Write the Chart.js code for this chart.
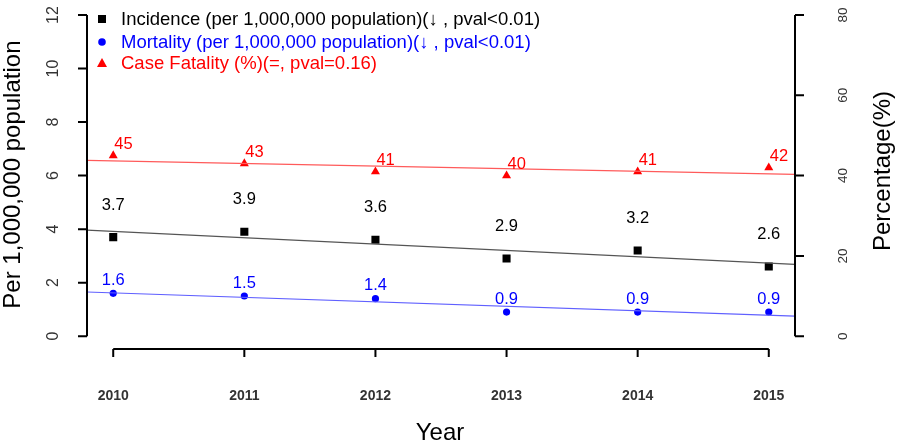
<!DOCTYPE html>
<html>
<head>
<meta charset="utf-8">
<script src="https://cdn.jsdelivr.net/npm/chart.js@4"></script>
<style>
  html, body { margin: 0; padding: 0; background: #fff; }
  #box { width: 898px; height: 442px; }
</style>
</head>
<body>
<div id="box"><canvas id="grafico"></canvas></div>
<script>
// dados
const anos = [2010, 2011, 2012, 2013, 2014, 2015];
const incidencia = [3.7, 3.9, 3.6, 2.9, 3.2, 2.6];
const mortalidade = [1.6, 1.5, 1.4, 0.9, 0.9, 0.9];
const letalidade = [45, 43, 41, 40, 41, 42];

// retas de tendência (extremos)
const tendenciaX = [2009.8, 2015.2];
const tendenciaIncidencia = [3.96, 2.68];
const tendenciaMortalidade = [1.65, 0.75];
const tendenciaLetalidade = [43.8, 40.3];

const ticksEsq = [0, 2, 4, 6, 8, 10, 12];
const ticksDir = [0, 20, 40, 60, 80];

const legendas = [
  'Incidence (per 1,000,000 population)(\u2193 , pval<0.01)',
  'Mortality (per 1,000,000 population)(\u2193 , pval<0.01)',
  'Case Fatality (%)(=, pval=0.16)'
];

const FONTE = '"Liberation Sans", Arial, sans-serif';

const pares = (xs, ys) => xs.map((x, i) => ({ x: x, y: ys[i] }));

// texto girado 90 graus (lendo de baixo para cima)
function textoVertical(ctx, txt, x, y) {
  ctx.save();
  ctx.translate(x, y);
  ctx.rotate(-Math.PI / 2);
  ctx.fillText(txt, 0, 0);
  ctx.restore();
}

// desenha eixos, rótulos e legenda no estilo do R
const eixosR = {
  id: 'eixosR',
  afterDraw(chart) {
    const ctx = chart.ctx;
    const sx = chart.scales.x, sy = chart.scales.y, sy2 = chart.scales.y2;
    const area = chart.chartArea;
    ctx.save();
    ctx.strokeStyle = '#000';
    ctx.lineWidth = 2;

    // eixo esquerdo
    ctx.beginPath();
    ctx.moveTo(area.left, sy.getPixelForValue(0));
    ctx.lineTo(area.left, sy.getPixelForValue(12));
    ticksEsq.forEach(v => {
      const p = sy.getPixelForValue(v);
      ctx.moveTo(area.left - 9, p);
      ctx.lineTo(area.left, p);
    });
    ctx.stroke();

    // eixo direito
    ctx.beginPath();
    ctx.moveTo(area.right, sy2.getPixelForValue(0));
    ctx.lineTo(area.right, sy2.getPixelForValue(80));
    ticksDir.forEach(v => {
      const p = sy2.getPixelForValue(v);
      ctx.moveTo(area.right, p);
      ctx.lineTo(area.right + 9, p);
    });
    ctx.stroke();

    // eixo x
    const yb = area.bottom;
    ctx.beginPath();
    ctx.moveTo(sx.getPixelForValue(anos[0]), yb);
    ctx.lineTo(sx.getPixelForValue(anos[anos.length - 1]), yb);
    anos.forEach(a => {
      const p = sx.getPixelForValue(a);
      ctx.moveTo(p, yb);
      ctx.lineTo(p, yb + 8);
    });
    ctx.stroke();

    // rótulos dos ticks
    ctx.fillStyle = '#333';
    ctx.textAlign = 'center';
    ctx.textBaseline = 'middle';
    ctx.font = '16px ' + FONTE;
    ticksEsq.forEach(v => textoVertical(ctx, String(v), 54, sy.getPixelForValue(v)));
    ctx.font = '13.5px ' + FONTE;
    ticksDir.forEach(v => textoVertical(ctx, String(v), 843, sy2.getPixelForValue(v)));
    ctx.font = 'bold 14px ' + FONTE;
    anos.forEach(a => ctx.fillText(String(a), sx.getPixelForValue(a), 396));

    // títulos dos eixos
    ctx.fillStyle = '#000';
    ctx.font = '24px ' + FONTE;
    ctx.textBaseline = 'alphabetic';
    ctx.fillText('Year', 440, 440);
    textoVertical(ctx, 'Per 1,000,000 population', 20, sy.getPixelForValue(6) - 1);
    textoVertical(ctx, 'Percentage(%)', 890, 171);

    // valores nos pontos
    ctx.textBaseline = 'middle';
    ctx.font = '16.5px ' + FONTE;
    const metaInc = chart.getDatasetMeta(3);
    const metaMor = chart.getDatasetMeta(4);
    const metaLet = chart.getDatasetMeta(5);
    ctx.fillStyle = '#000';
    ctx.textAlign = 'center';
    metaInc.data.forEach((el, i) => ctx.fillText(incidencia[i].toFixed(1), el.x, el.y - 32));
    ctx.fillStyle = '#0000ff';
    metaMor.data.forEach((el, i) => ctx.fillText(mortalidade[i].toFixed(1), el.x, el.y - 13));
    ctx.fillStyle = '#ff0000';
    ctx.textAlign = 'left';
    metaLet.data.forEach((el, i) => ctx.fillText(String(letalidade[i]), el.x + 1, el.y - 11));

    // legenda
    const cores = ['#000', '#0000ff', '#ff0000'];
    const linhas = [19, 42, 63];
    ctx.font = '18.5px ' + FONTE;
    ctx.textAlign = 'left';
    legendas.forEach((txt, i) => {
      const y = linhas[i];
      ctx.fillStyle = cores[i];
      if (i === 0) {
        ctx.fillRect(98, y - 4, 8, 8);
      } else if (i === 1) {
        ctx.beginPath();
        ctx.arc(102, y, 3.8, 0, Math.PI * 2);
        ctx.fill();
      } else {
        ctx.beginPath();
        ctx.moveTo(102, y - 5);
        ctx.lineTo(107, y + 4);
        ctx.lineTo(97, y + 4);
        ctx.closePath();
        ctx.fill();
      }
      ctx.fillText(txt, 121, y + 1);
    });
    ctx.restore();
  }
};

const ctx = document.getElementById('grafico').getContext('2d');

new Chart(ctx, {
  type: 'scatter',
  data: {
    datasets: [
      { data: pares(tendenciaX, tendenciaIncidencia), showLine: true, borderColor: '#555', borderWidth: 1.2, pointRadius: 0, yAxisID: 'y' },
      { data: pares(tendenciaX, tendenciaMortalidade), showLine: true, borderColor: '#6060ff', borderWidth: 1.2, pointRadius: 0, yAxisID: 'y' },
      { data: pares(tendenciaX, tendenciaLetalidade), showLine: true, borderColor: '#ff5a5a', borderWidth: 1.2, pointRadius: 0, yAxisID: 'y2' },
      { data: pares(anos, incidencia), pointStyle: 'rect', pointRadius: 5.7, backgroundColor: '#000', borderColor: '#000', borderWidth: 0, yAxisID: 'y' },
      { data: pares(anos, mortalidade), pointStyle: 'circle', pointRadius: 3.6, backgroundColor: '#0000ff', borderColor: '#0000ff', borderWidth: 0, yAxisID: 'y' },
      { data: pares(anos, letalidade), pointStyle: 'triangle', pointRadius: 5.2, backgroundColor: '#ff0000', borderColor: '#ff0000', borderWidth: 0, yAxisID: 'y2' }
    ]
  },
  options: {
    responsive: true,
    maintainAspectRatio: false,
    animation: false,
    layout: { padding: { left: 87, right: 103, top: 0, bottom: 93 } },
    plugins: { legend: { display: false }, tooltip: { enabled: false } },
    scales: {
      x: { type: 'linear', min: 2009.8, max: 2015.2, display: false },
      y: { min: -0.48, max: 12.35, display: false },
      y2: { min: -3.2, max: 82.33, display: false, position: 'right' }
    }
  },
  plugins: [eixosR]
});
</script>
</body>
</html>
